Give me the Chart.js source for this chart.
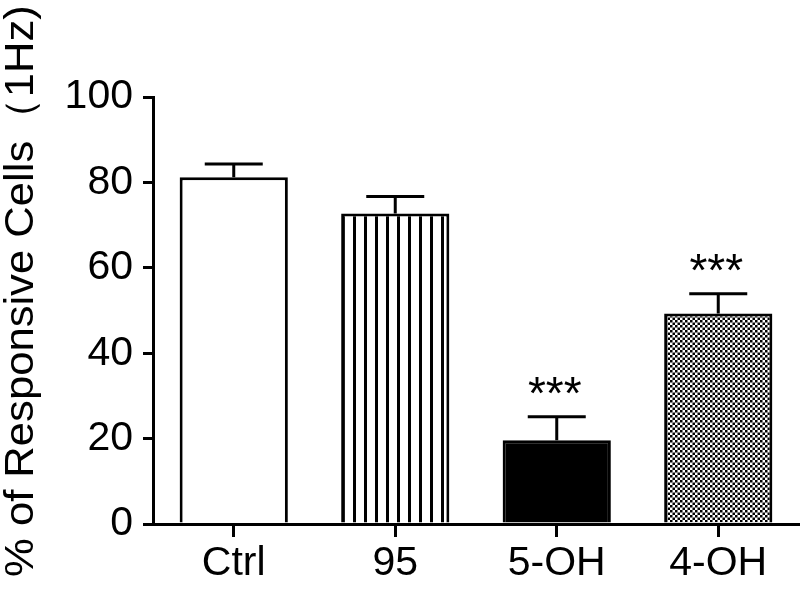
<!DOCTYPE html>
<html>
<head>
<meta charset="utf-8">
<script src="https://cdn.jsdelivr.net/npm/chart.js@4.4.1/dist/chart.umd.min.js"></script>
<style>
  html, body { margin: 0; padding: 0; background: #ffffff; }
  #wrap { width: 800px; height: 604px; }
</style>
</head>
<body>
<div id="wrap"><canvas id="c" width="800" height="604"></canvas></div>
<script>
// ---- data ----
const categories = ['Ctrl', '95', '5-OH', '4-OH'];
const meanValues = [81.2, 72.7, 19.6, 49.3];
const semValues = [3.1, 4.0, 5.5, 4.6];
const significance = ['', '', '***', '***'];
const yTicks = [0, 20, 40, 60, 80, 100];
const yTitle = '% of Responsive Cells（1Hz)';

const FONT = '"Liberation Sans", Arial, Helvetica, sans-serif';

// ---- fill patterns ----
function stripePattern() {
  const t = document.createElement('canvas');
  t.width = 11; t.height = 11;
  const g = t.getContext('2d');
  g.fillStyle = '#ffffff'; g.fillRect(0, 0, 11, 11);
  g.fillStyle = '#000000'; g.fillRect(1, 0, 3, 11);
  return g.createPattern(t, 'repeat');
}
function checkPattern() {
  const t = document.createElement('canvas');
  t.width = 10; t.height = 10;
  const g = t.getContext('2d');
  g.fillStyle = '#ffffff'; g.fillRect(0, 0, 10, 10);
  g.fillStyle = '#000000';
  for (let i = 0; i < 4; i++) {
    for (let j = 0; j < 4; j++) {
      if ((i + j) % 2 === 0) g.fillRect(i * 2.5, j * 2.5, 2.5, 2.5);
    }
  }
  return g.createPattern(t, 'repeat');
}
const ctx0 = document.getElementById('c').getContext('2d');
const fills = ['#ffffff', stripePattern(), '#000000', checkPattern()];

// ---- plugins ----
const errorBarPlugin = {
  id: 'errorBars',
  afterDatasetsDraw(chart) {
    const ctx = chart.ctx;
    const meta = chart.getDatasetMeta(0);
    const ys = chart.scales.y;
    ctx.save();
    ctx.strokeStyle = '#000';
    ctx.lineWidth = 3;
    ctx.lineCap = 'butt';
    meta.data.forEach((bar, i) => {
      const top = ys.getPixelForValue(meanValues[i] + semValues[i]);
      const x = bar.x;
      ctx.beginPath();
      ctx.moveTo(x, bar.y);
      ctx.lineTo(x, top);
      ctx.moveTo(x - 29, top);
      ctx.lineTo(x + 29, top);
      ctx.stroke();
      if (significance[i]) {
        ctx.fillStyle = '#000';
        ctx.font = '46px ' + FONT;
        ctx.textAlign = 'center';
        ctx.textBaseline = 'alphabetic';
        ctx.fillText(significance[i], x - 2, top - 8);
      }
    });
    ctx.restore();
  }
};

const yTitlePlugin = {
  id: 'yTitle',
  afterDraw(chart) {
    const ctx = chart.ctx;
    ctx.save();
    ctx.translate(33, 577);
    ctx.rotate(-Math.PI / 2);
    ctx.scale(1.09, 1);
    ctx.fillStyle = '#000';
    ctx.font = '40px ' + FONT;
    ctx.textAlign = 'left';
    ctx.textBaseline = 'alphabetic';
    ctx.fillText(yTitle, 0, 0);
    ctx.restore();
  }
};

new Chart(ctx0, {
  type: 'bar',
  data: {
    labels: categories,
    datasets: [{
      data: meanValues,
      backgroundColor: fills,
      borderColor: '#000000',
      borderWidth: 3,
      borderSkipped: 'start',
      barPercentage: 0.67,
      categoryPercentage: 1.0
    }]
  },
  options: {
    responsive: false,
    devicePixelRatio: 1,
    animation: false,
    layout: { padding: { top: 97, right: 1, bottom: 0, left: 0 } },
    plugins: { legend: { display: false }, tooltip: { enabled: false } },
    scales: {
      x: {
        offset: true,
        grid: { display: true, offset: false, drawOnChartArea: false, color: '#000', lineWidth: 3, tickLength: 13 },
        border: { display: true, color: '#000', width: 3 },
        ticks: { color: '#000', font: { family: FONT, size: 41 }, padding: 2, maxRotation: 0 },
        afterFit(s) { s.height = 80; }
      },
      y: {
        min: 0, max: 100,
        afterBuildTicks(s) { s.ticks = yTicks.map(v => ({ value: v })); },
        grid: { display: true, drawOnChartArea: false, color: '#000', lineWidth: 3, tickLength: 10 },
        border: { display: true, color: '#000', width: 3 },
        ticks: { color: '#000', font: { family: FONT, size: 41 }, padding: 10 },
        afterFit(s) { s.width = 153; }
      }
    }
  },
  plugins: [errorBarPlugin, yTitlePlugin]
});
</script>
</body>
</html>
